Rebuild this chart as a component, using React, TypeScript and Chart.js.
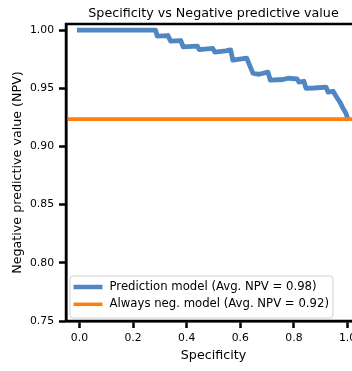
import React, { useEffect, useRef } from "react";
import { Chart, registerables } from "chart.js";

Chart.register(...registerables);

const TITLE = "Specificity vs Negative predictive value";
const X_LABEL = "Specificity";
const Y_LABEL = "Negative predictive value (NPV)";
const LEGEND_LABELS = [
  "Prediction model (Avg. NPV = 0.98)",
  "Always neg. model (Avg. NPV = 0.92)",
];

const SPECIFICITY = [
  0, 0.284, 0.29, 0.33, 0.34, 0.378, 0.387, 0.44, 0.447, 0.497, 0.505, 0.545,
  0.564, 0.572, 0.624, 0.636, 0.647, 0.669, 0.703, 0.712, 0.759, 0.778, 0.811,
  0.819, 0.837, 0.845, 0.875, 0.92, 0.927, 0.946, 0.957, 0.972, 0.983, 0.994,
  1.0,
];
const NPV_MODEL = [
  1.0, 1.0, 0.9948, 0.9953, 0.9905, 0.991, 0.9855, 0.9862, 0.9832, 0.9842,
  0.981, 0.9822, 0.983, 0.9741, 0.9759, 0.969, 0.963, 0.962, 0.9638, 0.9569,
  0.9575, 0.9586, 0.958, 0.9552, 0.956, 0.95, 0.9502, 0.9509, 0.9466, 0.9474,
  0.9431, 0.9379, 0.9328, 0.9284, 0.9241,
];
const NPV_BASELINE = 0.9235;

const X_TICKS = [0, 0.2, 0.4, 0.6, 0.8, 1.0];
const Y_TICKS = [0.75, 0.8, 0.85, 0.9, 0.95, 1.0];
const X_MIN = -0.05;
const X_MAX = 1.05;
const Y_MIN = 0.75;
const Y_MAX = 1.0052;

const BLUE = "rgb(80,134,194)";
const ORANGE = "#ff7f0e";
const FONT = "DejaVu Sans";
const TICK_SIZE = 10.8;
const LABEL_SIZE = 12.7;
const LEGEND_SIZE = 11.7;

function roundRect(ctx: CanvasRenderingContext2D, x: number, y: number, w: number, h: number, r: number) {
  ctx.beginPath();
  ctx.moveTo(x + r, y);
  ctx.lineTo(x + w - r, y);
  ctx.arcTo(x + w, y, x + w, y + r, r);
  ctx.lineTo(x + w, y + h - r);
  ctx.arcTo(x + w, y + h, x + w - r, y + h, r);
  ctx.lineTo(x + r, y + h);
  ctx.arcTo(x, y + h, x, y + h - r, r);
  ctx.lineTo(x, y + r);
  ctx.arcTo(x, y, x + r, y, r);
  ctx.closePath();
}

const decorPlugin = {
  id: "decor",
  afterDatasetsDraw(chart: any) {
    const ctx: CanvasRenderingContext2D = chart.ctx;
    const ca = chart.chartArea;
    ctx.save();
    ctx.strokeStyle = "#000";
    ctx.lineWidth = 2.5;
    ctx.strokeRect(ca.left, ca.top, ca.right - ca.left, ca.bottom - ca.top);
    ctx.restore();
  },
  afterDraw(chart: any) {
    const ctx: CanvasRenderingContext2D = chart.ctx;
    const ca = chart.chartArea;
    ctx.save();
    // title
    ctx.fillStyle = "#000";
    ctx.font = `${LABEL_SIZE}px "${FONT}"`;
    ctx.textAlign = "center";
    ctx.textBaseline = "alphabetic";
    ctx.fillText(TITLE, (ca.left + ca.right) / 2, ca.top - 7.5);

    // legend
    ctx.font = `${LEGEND_SIZE}px "${FONT}"`;
    const widths = LEGEND_LABELS.map((t) => ctx.measureText(t).width);
    const maxW = Math.max(...widths);
    const boxL = ca.left + 4;
    const boxB = ca.bottom - 3;
    const rowH = 17.3;
    const boxH = 42;
    const boxT = boxB - boxH;
    const handleL = boxL + 3.5;
    const handleR = handleL + 29;
    const textX = handleR + 7;
    const boxW = textX + maxW + 4 - boxL;
    roundRect(ctx, boxL, boxT, boxW, boxH, 3);
    ctx.fillStyle = "rgba(255,255,255,0.8)";
    ctx.fill();
    ctx.strokeStyle = "#d0d0d0";
    ctx.lineWidth = 1;
    ctx.stroke();
    const colors = [BLUE, ORANGE];
    const lw = [4.5, 3.5];
    LEGEND_LABELS.forEach((t, i) => {
      const y = boxT + 11 + i * rowH;
      ctx.strokeStyle = colors[i];
      ctx.lineWidth = lw[i];
      ctx.lineCap = "butt";
      ctx.beginPath();
      ctx.moveTo(handleL, y);
      ctx.lineTo(handleR, y);
      ctx.stroke();
      ctx.fillStyle = "#000";
      ctx.textAlign = "left";
      ctx.textBaseline = "middle";
      ctx.fillText(t, textX, y);
    });
    ctx.restore();
  },
};

export default function App() {
  const ref = useRef<HTMLCanvasElement | null>(null);
  useEffect(() => {
    if (!ref.current) return;
    Chart.defaults.font.family = FONT;
    Chart.defaults.color = "#000";
    const chart = new Chart(ref.current, {
      type: "line",
      data: {
        datasets: [
          {
            label: LEGEND_LABELS[0],
            data: SPECIFICITY.map((x, i) => ({ x, y: NPV_MODEL[i] })),
            borderColor: BLUE,
            borderWidth: 4.8,
            pointRadius: 0,
            tension: 0,
            borderJoinStyle: "round",
            borderCapStyle: "square",
            fill: false,
            order: 2,
          },
          {
            label: LEGEND_LABELS[1],
            data: [
              { x: X_MIN, y: NPV_BASELINE },
              { x: X_MAX, y: NPV_BASELINE },
            ],
            borderColor: ORANGE,
            borderWidth: 3.6,
            pointRadius: 0,
            tension: 0,
            fill: false,
            order: 1,
          },
        ],
      },
      options: {
        animation: false,
        responsive: false,
        devicePixelRatio: 1,
        layout: { padding: { left: 0, right: 19, top: 24, bottom: 0 } },
        plugins: {
          legend: { display: false },
          tooltip: { enabled: false },
          title: { display: false },
        },
        scales: {
          x: {
            type: "linear",
            min: X_MIN,
            max: X_MAX,
            afterFit: (s: any) => {
              s.height = 50;
            },
            afterBuildTicks: (s: any) => {
              s.ticks = X_TICKS.map((v) => ({ value: v }));
            },
            ticks: {
              font: { size: TICK_SIZE },
              color: "#000",
              padding: 4,
              maxRotation: 0,
              autoSkip: false,
              callback: (v: any) => Number(v).toFixed(1),
            },
            grid: {
              display: true,
              drawOnChartArea: false,
              drawTicks: true,
              tickLength: 7,
              tickWidth: 2.5,
              tickColor: "#000",
            },
            border: { display: true, color: "#000", width: 2.5 },
            title: {
              display: true,
              text: X_LABEL,
              font: { size: LABEL_SIZE },
              color: "#000",
              padding: { top: 0, bottom: 7.4 },
            },
          },
          y: {
            type: "linear",
            min: Y_MIN,
            max: Y_MAX,
            afterFit: (s: any) => {
              s.width = 66;
            },
            afterBuildTicks: (s: any) => {
              s.ticks = Y_TICKS.map((v) => ({ value: v }));
            },
            ticks: {
              font: { size: TICK_SIZE },
              color: "#000",
              padding: 5,
              autoSkip: false,
              callback: (v: any) => Number(v).toFixed(2),
            },
            grid: {
              display: true,
              drawOnChartArea: false,
              drawTicks: true,
              tickLength: 7,
              tickWidth: 2.5,
              tickColor: "#000",
            },
            border: { display: true, color: "#000", width: 2.5 },
            title: {
              display: true,
              text: Y_LABEL,
              font: { size: LABEL_SIZE },
              color: "#000",
              padding: { top: 10, bottom: 0 },
            },
          },
        },
      },
      plugins: [decorPlugin],
    } as any);
    return () => chart.destroy();
  }, []);
  return (
    <div
      style={{
        position: "fixed",
        left: 0,
        top: 0,
        width: 352,
        height: 371,
        overflow: "hidden",
        background: "#fff",
      }}
    >
      <canvas ref={ref} width={380} height={371} style={{ width: 380, height: 371, display: "block" }} />
    </div>
  );
}
